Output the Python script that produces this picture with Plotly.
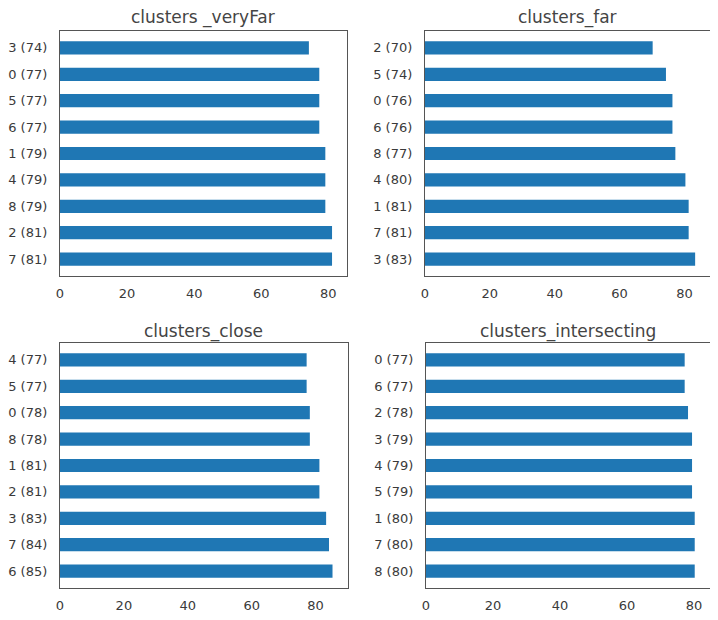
import plotly.graph_objects as go

# ---- data ----
titles = ["clusters _veryFar", "clusters_far", "clusters_close", "clusters_intersecting"]

veryfar_labels = ["3 (74)", "0 (77)", "5 (77)", "6 (77)", "1 (79)", "4 (79)", "8 (79)", "2 (81)", "7 (81)"]
veryfar_values = [74.2, 77.3, 77.3, 77.3, 79.1, 79.1, 79.1, 81.1, 81.1]

far_labels = ["2 (70)", "5 (74)", "0 (76)", "6 (76)", "8 (77)", "4 (80)", "1 (81)", "7 (81)", "3 (83)"]
far_values = [70.2, 74.3, 76.3, 76.3, 77.2, 80.3, 81.3, 81.3, 83.3]

close_labels = ["4 (77)", "5 (77)", "0 (78)", "8 (78)", "1 (81)", "2 (81)", "3 (83)", "7 (84)", "6 (85)"]
close_values = [77.2, 77.2, 78.2, 78.2, 81.2, 81.2, 83.3, 84.2, 85.3]

inter_labels = ["0 (77)", "6 (77)", "2 (78)", "3 (79)", "4 (79)", "5 (79)", "1 (80)", "7 (80)", "8 (80)"]
inter_values = [77.2, 77.2, 78.2, 79.4, 79.4, 79.4, 80.2, 80.2, 80.2]

x_ticks = [0, 20, 40, 60, 80]

panels = [
    (veryfar_labels, veryfar_values),
    (far_labels, far_values),
    (close_labels, close_values),
    (inter_labels, inter_values),
]

# ---- layout geometry ----
# page body has an 8px margin, so the figure is 702x604 placed at (8, 8)
OFF = 8
W, H = 702, 604
x_doms = [(60, 347), (425, 710), (60, 347.5), (426, 709.5)]   # window pixels
y_doms = [(31, 276), (31, 276), (343, 588), (343, 588)]
title_y = [17, 17, 331, 331]


def px(v):
    return min(1.0, max(0.0, (v - OFF) / W))


def py(v):
    return min(1.0, max(0.0, 1 - (v - OFF) / H))


BAR = "#1f77b4"
FRAME = "#555555"
TXT = "#3a3a3a"
FONT = "DejaVu Sans"
TICK = 13

fig = go.Figure()
layout = dict(
    width=W, height=H,
    margin=dict(l=0, r=0, t=0, b=0, autoexpand=False),
    paper_bgcolor="white", plot_bgcolor="white",
    showlegend=False,
    font=dict(family=FONT, color=TXT, size=TICK),
    annotations=[],
)

for i, (labels, values) in enumerate(panels):
    n = i + 1
    xa = "x" if n == 1 else f"x{n}"
    ya = "y" if n == 1 else f"y{n}"
    fig.add_trace(go.Bar(
        x=values, y=labels, orientation="h",
        marker=dict(color=BAR, line=dict(width=0)),
        width=0.5, xaxis=xa, yaxis=ya, hoverinfo="x+y",
    ))
    x0, x1 = x_doms[i]
    y0, y1 = y_doms[i]
    key_x = "xaxis" if n == 1 else f"xaxis{n}"
    key_y = "yaxis" if n == 1 else f"yaxis{n}"
    layout[key_x] = dict(
        domain=[px(x0), px(x1)], anchor=ya, automargin=False,
        range=[0, max(values) * 1.055],
        tickvals=x_ticks, ticks="", showgrid=False, zeroline=False,
        showline=True, mirror=True, linecolor=FRAME, linewidth=1.3,
        ticklabelstandoff=5, tickfont=dict(size=TICK, color=TXT, family=FONT),
    )
    layout[key_y] = dict(
        domain=[py(y1), py(y0)], anchor=xa, automargin=False,
        type="category", categoryarray=labels,
        range=[8.64, -0.64],
        ticks="", showgrid=False, zeroline=False,
        showline=True, mirror=True, linecolor=FRAME, linewidth=1.3,
        ticklabelstandoff=9, tickfont=dict(size=TICK, color=TXT, family=FONT),
    )
    layout["annotations"].append(dict(
        text=titles[i], xref="paper", yref="paper",
        x=px((x0 + x1) / 2), y=py(title_y[i]),
        xanchor="center", yanchor="middle", showarrow=False, borderpad=0,
        font=dict(size=17, color="#444444", family=FONT),
    ))

fig.update_layout(**layout)
fig.write_html("out.html")
